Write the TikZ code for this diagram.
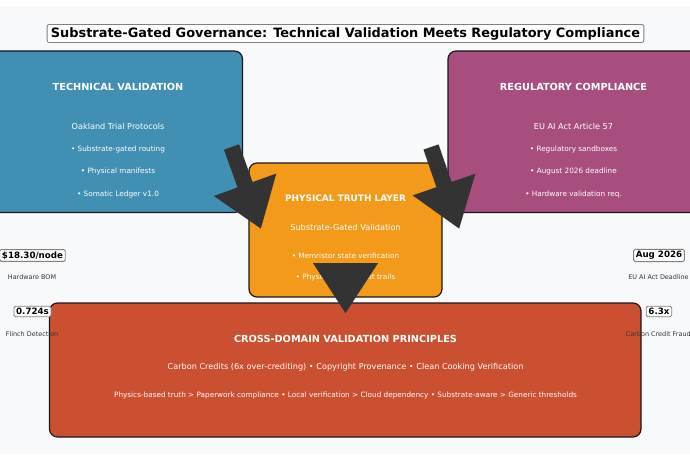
\documentclass[tikz,border=0pt]{standalone}
\usepackage{fontspec}
\setmainfont{DejaVu Sans}
\usetikzlibrary{arrows.meta}
\definecolor{pagebg}{HTML}{F8F9FA}
\definecolor{techc}{HTML}{4190B3}
\definecolor{regc}{HTML}{A84E7F}
\definecolor{physc}{HTML}{F39A1B}
\definecolor{crossc}{HTML}{CB5031}
\definecolor{arrowc}{HTML}{333333}
\definecolor{notec}{HTML}{333333}
\tikzset{
  x=1pt,y=-1pt,
  domainbox/.style={draw=black!90,line width=1.2pt,rounded corners=8pt},
  head/.style={text=white,font=\bfseries\fontsize{9.75}{12}\selectfont,inner sep=0pt},
  physheadstyle/.style={text=white,font=\bfseries\fontsize{8.95}{11}\selectfont,inner sep=0pt},
  sub/.style={text=white,font=\fontsize{8.15}{10}\selectfont,inner sep=0pt},
  item/.style={text=white,font=\fontsize{7.28}{9}\selectfont,inner sep=0pt},
  flow/.style={draw=arrowc,line width=16pt,-{Triangle[length=47pt,width=63pt,fill=arrowc]}},
  metric/.style={draw=gray,fill=white,line width=.9pt,rounded corners=1.5pt,inner xsep=2.2pt,inner ysep=2pt,text=black,font=\bfseries\fontsize{8.7}{10}\selectfont},
  note/.style={text=notec,font=\fontsize{6.45}{8}\selectfont,inner sep=0pt},
  titlebox/.style={draw=gray,fill=white,line width=.8pt,rounded corners=2pt,inner xsep=3.8pt,inner ysep=2.7pt,text=black,font=\bfseries\fontsize{12.9}{15}\selectfont}
}
\begin{document}
\begin{tikzpicture}
\useasboundingbox (0,0) rectangle (690,460);
\fill[white] (0,0) rectangle (690,460);
\fill[pagebg] (0,6) rectangle (690,454);
\node[titlebox] (title) at (345.5,33.5) {Substrate-Gated Governance: Technical Validation Meets Regulatory Compliance};

\draw[domainbox,fill=techc] (-12,51) rectangle (242.5,212.5);
\draw[domainbox,fill=regc] (448,51) rectangle (702,212.5);
\draw[domainbox,fill=physc] (249,163) rectangle (442,297);
\draw[domainbox,fill=crossc] (49.5,303) rectangle (641,437);

\node[head] (techhead) at (118,86.5) {TECHNICAL VALIDATION};
\node[sub] (techsub) at (118,126.5) {Oakland Trial Protocols};
\node[item] (tech1) at (118,149) {• Substrate-gated routing};
\node[item] (tech2) at (118,171.5) {• Physical manifests};
\node[item] (tech3) at (118,194) {• Somatic Ledger v1.0};

\node[head] (reghead) at (573.5,86.5) {REGULATORY COMPLIANCE};
\node[sub] (regsub) at (573.5,126.5) {EU AI Act Article 57};
\node[item] (reg1) at (573.5,149) {• Regulatory sandboxes};
\node[item] (reg2) at (573.5,171.5) {• August 2026 deadline};
\node[item] (reg3) at (573.5,194) {• Hardware validation req.};

\node[physheadstyle] (physhead) at (345.5,198.5) {PHYSICAL TRUTH LAYER};
\node[sub] (physsub) at (345.5,227) {Substrate-Gated Validation};
\node[item] (phys1) at (345.5,255.5) {• Memristor state verification};
\node[item] (phys2) at (345.5,277.5) {• Physics-based audit trails};

\node[head] (crosshead) at (345.5,338.5) {CROSS-DOMAIN VALIDATION PRINCIPLES};
\node[sub] (crosssub) at (345.5,367) {Carbon Credits (6x over-crediting) • Copyright Provenance • Clean Cooking Verification};
\node[item] (crossitem) at (345.5,395.5) {Physics-based truth > Paperwork compliance • Local verification > Cloud dependency • Substrate-aware > Generic thresholds};

\node[metric] (m1) at (32.5,255.5) {\$18.30/node};
\node[note] (n1) at (32,277.5) {Hardware BOM};
\node[metric] (m2) at (32.5,311.5) {0.724s};
\node[note] (n2) at (32,334) {Flinch Detection};
\node[metric] (m3) at (659,255.5) {Aug 2026};
\node[note] (n3) at (658.5,277.5) {EU AI Act Deadline};
\node[metric] (m4) at (659,311.5) {6.3x};
\node[note] (n4) at (658.3,334) {Carbon Credit Fraud};

\coordinate (techout) at (231.5,147);
\coordinate (physleft) at (261,229);
\coordinate (regout) at (431,147);
\coordinate (physright) at (459.3,229);
\coordinate (physout) at (345.5,263);
\coordinate (crossin) at (345.5,313);
\draw[flow] (techout) -- (physleft);
\draw[flow] (regout) -- (physright);
\draw[flow,line width=.1pt,-{Triangle[length=50pt,width=65pt,fill=arrowc]}] (physout) -- (crossin);
\end{tikzpicture}
\end{document}
